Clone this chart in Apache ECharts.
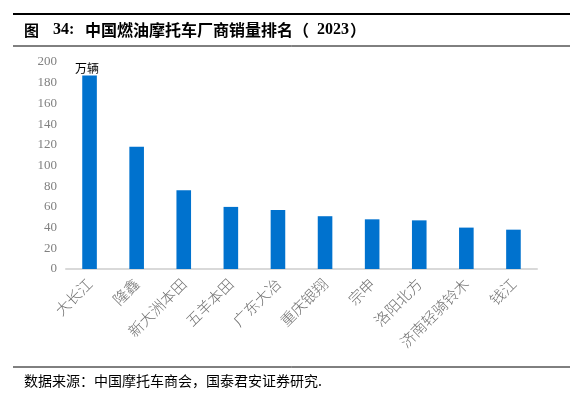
<!DOCTYPE html>
<html>
<head>
<meta charset="utf-8">
<script src="https://cdn.jsdelivr.net/npm/echarts@6/dist/echarts.min.js"></script>
<style>
html,body{margin:0;padding:0;background:#fff;}
#main{width:585px;height:396px;}
</style>
</head>
<body>
<div id="main"></div>
<script>
// 厂商
var makers = ['大长江', '隆鑫', '新大洲本田', '五羊本田', '广东大冶', '重庆银翔', '宗申', '洛阳北方', '济南轻骑铃木', '钱江'];
// 销量（万辆）
var sales = [187, 118, 76, 60, 57, 51, 48, 47, 40, 38];
var yTicks = [0, 200, 20]; // min, max, interval

var cjk = '"Noto Sans CJK SC"';
var serif = '"Liberation Serif"';

var chart = echarts.init(document.getElementById('main'));
var option = {
  animation: false,
  backgroundColor: '#fff',
  grid: {left: 66, right: 48, top: 62, bottom: 127},
  graphic: [
    {type: 'line', shape: {x1: 13, y1: 14, x2: 570, y2: 14}, style: {stroke: '#000', lineWidth: 2}},
    // 标题
    {type: 'text', x: 24, y: 30, style: {text: '图', font: 'bold 15px ' + cjk, fill: '#000', verticalAlign: 'middle'}},
    {type: 'text', x: 53, y: 30, style: {text: '34:', font: 'bold 16px ' + serif, fill: '#000', verticalAlign: 'middle'}},
    {type: 'text', x: 85, y: 30, style: {text: '中国燃油摩托车厂商销量排名（', font: 'bold 16px ' + cjk, fill: '#000', verticalAlign: 'middle'}},
    {type: 'text', x: 317, y: 30, style: {text: '2023', font: 'bold 16px ' + serif, fill: '#000', verticalAlign: 'middle'}},
    {type: 'text', x: 350, y: 30, style: {text: '）', font: 'bold 16px ' + cjk, fill: '#000', verticalAlign: 'middle'}},
    {type: 'line', shape: {x1: 13, y1: 46, x2: 570, y2: 46}, style: {stroke: '#000', lineWidth: 1}},
    {type: 'text', x: 75, y: 68, style: {text: '万辆', font: '12px ' + cjk, fill: '#000', verticalAlign: 'middle'}},
    {type: 'line', shape: {x1: 13, y1: 367, x2: 570, y2: 367}, style: {stroke: '#000', lineWidth: 1}},
    {type: 'text', x: 24, y: 381, style: {text: '数据来源：中国摩托车商会，国泰君安证券研究.', font: '14px ' + cjk, fill: '#000', verticalAlign: 'middle'}}
  ],
  xAxis: {
    type: 'category',
    data: makers,
    axisLine: {lineStyle: {color: '#d9d9d9', width: 2}},
    axisTick: {show: false},
    axisLabel: {rotate: 45, color: '#707070', fontSize: 15, fontFamily: 'Noto Sans CJK SC', fontWeight: 300, margin: 12, interval: 0}
  },
  yAxis: {
    type: 'value',
    min: yTicks[0], max: yTicks[1], interval: yTicks[2],
    axisLine: {show: false},
    axisTick: {show: false},
    splitLine: {show: false},
    axisLabel: {color: '#808080', fontSize: 13, fontFamily: 'Liberation Serif', margin: 9}
  },
  series: [{
    type: 'bar',
    data: sales,
    barWidth: '31%',
    itemStyle: {color: '#0072ce'}
  }]
};
chart.setOption(option);
</script>
</body>
</html>
